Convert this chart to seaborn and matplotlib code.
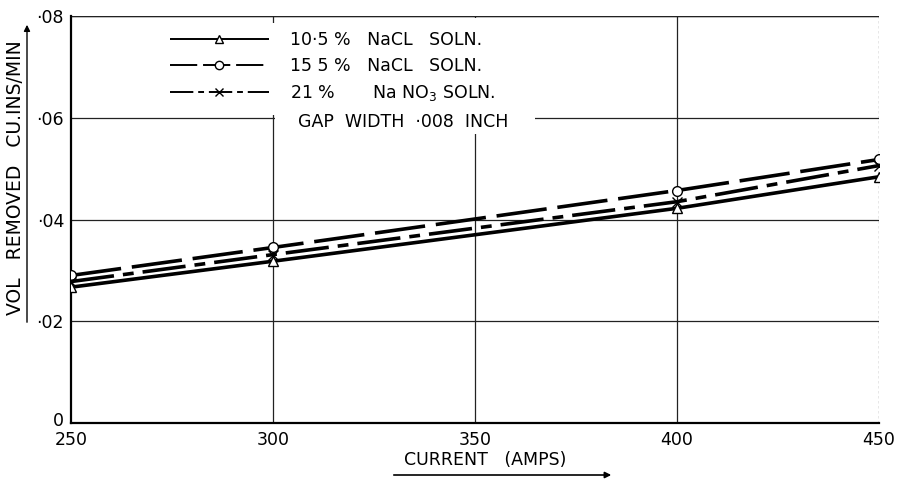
import matplotlib
matplotlib.use("Agg")
import matplotlib.pyplot as plt
import matplotlib.transforms as mtransforms
from matplotlib.lines import Line2D
from matplotlib.patches import FancyArrowPatch, Rectangle
import seaborn as sns
import pandas as pd

# Metal removal rate vs. machining current for three electrolytes
current = [250, 300, 400, 450]
nacl_10_5 = [0.0267, 0.0318, 0.0422, 0.0484]
nacl_15_5 = [0.0290, 0.0345, 0.0457, 0.0518]
nano3_21 = [0.0278, 0.0331, 0.0435, 0.0506]

series_names = ["10·5 %   NaCL   SOLN.", "15 5 %   NaCL   SOLN.", "21 %       Na NO$_3$ SOLN."]
series_values = [nacl_10_5, nacl_15_5, nano3_21]
markers = ["^", "o", "x"]
dashes = [(1, 0), (14, 3), (12, 2.5, 3, 2.5)]

x_ticks = [250, 300, 350, 400, 450]
x_tick_labels = ["250", "300", "350", "400", "450"]
y_ticks = [0, 0.02, 0.04, 0.06, 0.08]
y_tick_labels = ["0", "·02", "·04", "·06", "·08"]

sns.set_theme(style="white")
plt.rcParams["font.family"] = ["DejaVu Sans"]
plt.rcParams["text.color"] = "black"

fig = plt.figure(figsize=(9.02, 4.79), dpi=100)
ax = fig.add_axes([71 / 902, 1 - 423 / 479, (879 - 71) / 902, (423 - 16) / 479])

for name, vals, m, d in zip(series_names, series_values, markers, dashes):
    df = pd.DataFrame({"current": current, "vol": vals})
    sns.lineplot(data=df, x="current", y="vol", color="black", linewidth=2.6,
                 ax=ax, zorder=3)
    line = ax.lines[-1]
    line.set_dashes(d)
    line.set_marker(m)
    line.set_markersize(7)
    line.set_markerfacecolor("white")
    line.set_markeredgecolor("black")
    line.set_markeredgewidth(1.0)

ax.set_xlim(250, 450)
ax.set_ylim(0, 0.08)
ax.set_xticks(x_ticks)
ax.set_xticklabels(x_tick_labels, fontsize=12.5, color="black")
ax.set_yticks(y_ticks)
ax.set_yticklabels(y_tick_labels, fontsize=12.5, color="black")
ax.tick_params(axis="x", length=0, pad=6)
ax.tick_params(axis="y", length=0, pad=5)
ax.set_xlabel("")
ax.set_ylabel("")

# Lift the zero label so it clears the 250 below it
zero_lbl = ax.get_yticklabels()[0]
zero_lbl.set_transform(zero_lbl.get_transform() +
                       mtransforms.ScaledTranslation(0, 4 / 100, fig.dpi_scale_trans))

for x in x_ticks[1:-1]:
    ax.axvline(x, color="#222222", lw=0.9, zorder=1)
for y in y_ticks[1:]:
    ax.axhline(y, color="#222222", lw=0.9, zorder=1)

for side in ["top", "right"]:
    ax.spines[side].set_visible(False)
ax.axhline(0.08, color="#222222", lw=1.0, zorder=1)
ax.axvline(450, color="#444444", lw=0.9, ls=(0, (2, 2)), zorder=1)
for side in ["left", "bottom"]:
    ax.spines[side].set_linewidth(1.6)
    ax.spines[side].set_color("black")

# White panels behind the key, hiding the grid there
ax.add_patch(Rectangle((296, 0.0606), 8, 0.0786 - 0.0606,
                       facecolor="white", edgecolor="none", zorder=2))
ax.add_patch(Rectangle((300.6, 0.0569), 364.9 - 300.6, 0.0797 - 0.0569,
                       facecolor="white", edgecolor="none", zorder=2))

handles = [
    Line2D([0], [0], color="black", lw=1.4, dashes=d, marker=m, markersize=6,
           markerfacecolor="white", markeredgecolor="black")
    for d, m in zip(dashes, markers)
]
leg = ax.legend(handles, series_names, loc="upper left",
                bbox_to_anchor=((170 - 71) / 808, (423 - 31) / 407),
                frameon=False, handlelength=5.7, handletextpad=1.2,
                labelspacing=0.45, fontsize=12.5, borderpad=0, borderaxespad=0)
for t in leg.get_texts():
    t.set_color("black")
leg.set_zorder(5)

ax.text(332.2, 0.0592, "GAP  WIDTH  ·008  INCH",
        fontsize=12.5, ha="center", va="center", zorder=6, color="black")

# Axis titles with arrows
fig.text(16 / 902, 1 - 178 / 479, "VOL   REMOVED   CU.INS/MIN", rotation=90,
         ha="center", va="center", fontsize=13.5, color="black")
fig.add_artist(FancyArrowPatch(
    (27 / 902, 1 - 325 / 479), (27 / 902, 1 - 22 / 479),
    transform=fig.transFigure, arrowstyle="-|>", mutation_scale=9, lw=1.0, color="black"))

fig.text(485 / 902, 1 - 460 / 479, "CURRENT   (AMPS)", ha="center", va="center",
         fontsize=12.5, color="black")
fig.add_artist(FancyArrowPatch(
    (391 / 902, 1 - 475 / 479), (614 / 902, 1 - 475 / 479),
    transform=fig.transFigure, arrowstyle="-|>", mutation_scale=9, lw=1.2, color="black"))

fig.savefig("out.png", dpi=100, facecolor="white")
